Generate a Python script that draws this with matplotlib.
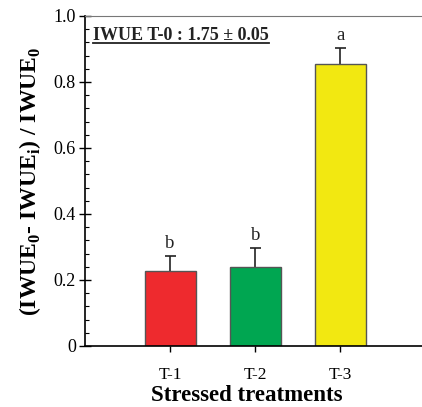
import matplotlib
matplotlib.use("Agg")
import numpy as np
import matplotlib.pyplot as plt
from matplotlib.ticker import MultipleLocator

treatments = ["T-1", "T-2", "T-3"]
values = [0.227, 0.240, 0.855]
errors = [0.047, 0.056, 0.048]
letters = ["b", "b", "a"]
colors = ["#EE2A2E", "#00A651", "#F2E811"]
note = "IWUE T-0 : 1.75 \u00b1 0.05"

plt.rcParams["font.family"] = ["Liberation Serif", "DejaVu Serif"]
plt.rcParams["mathtext.fontset"] = "custom"
plt.rcParams["mathtext.rm"] = "Liberation Serif"
plt.rcParams["mathtext.bf"] = "Liberation Serif:bold"

fig = plt.figure(figsize=(4.22, 4.07), dpi=100)
ax = fig.add_axes([0.2014, 0.150, 0.7986, 0.8107])

x = np.arange(1, len(treatments) + 1)
tops = np.array(values) + np.array(errors)
ax.bar(x, values, width=0.6, color=colors, edgecolor="#555555", linewidth=1.0, zorder=2)
ax.vlines(x, values, tops, color="#222222", linewidth=1.2, zorder=1)
ax.hlines(tops, x - 0.065, x + 0.065, color="#222222", linewidth=1.2, zorder=1)
for xi, tp, l in zip(x, tops, letters):
    ax.text(xi, tp + 0.012, l, ha="center", va="bottom", fontsize=13.5, color="#222222")

ax.set_xlim(0, 3.96)
ax.set_ylim(0, 1.0)
ax.set_xticks(x)
ax.set_xticklabels(treatments, fontsize=12.5)
ax.set_yticks([0, 0.2, 0.4, 0.6, 0.8, 1.0])
ax.set_yticklabels(["0", "0.2", "0.4", "0.6", "0.8", "1.0"], fontsize=13)
ax.yaxis.set_minor_locator(MultipleLocator(0.04))
ax.tick_params(axis="y", which="major", direction="inout", length=9, width=1, pad=2)
ax.tick_params(axis="y", which="minor", direction="in", length=3, width=0.8)
ax.tick_params(axis="x", which="major", direction="out", length=4, width=1, pad=11)

ax.spines["right"].set_visible(False)
ax.spines["top"].set_color("#777777")
ax.spines["left"].set_linewidth(1.2)
ax.spines["bottom"].set_linewidth(1.2)

ax.set_xlabel("Stressed treatments", fontsize=16.5, fontweight="bold")
ax.xaxis.set_label_coords(0.48, -0.118)
ax.set_ylabel(r"(IWUE$_\mathbf{0}$- IWUE$_\mathbf{i}$) / IWUE$_\mathbf{0}$",
              fontsize=17, fontweight="bold")
ax.yaxis.set_label_coords(-0.125, 0.5)

t = ax.text(0.024, 0.915, note, transform=ax.transAxes, fontsize=13,
            fontweight="bold", va="bottom", ha="left", color="#222222")
fig.canvas.draw()
bb = t.get_window_extent(fig.canvas.get_renderer()).transformed(ax.transAxes.inverted())
ax.plot([bb.x0, bb.x1], [bb.y0 + 0.002, bb.y0 + 0.002], transform=ax.transAxes,
        color="#222222", linewidth=1.3, clip_on=False)

fig.savefig("out.png", dpi=100)
